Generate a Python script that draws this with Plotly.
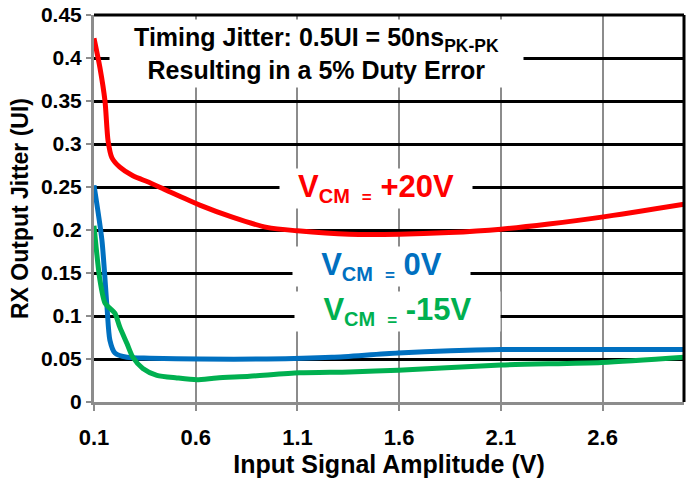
import plotly.graph_objects as go

# 读取自图像的数据点
x_red = [0.1, 0.129, 0.154, 0.169, 0.188, 0.227, 0.291, 0.375, 0.458, 0.62, 0.78, 0.95,
         1.1, 1.355, 1.6, 1.845, 2.1, 2.335, 2.595, 3.0]
y_red = [0.423, 0.389, 0.350, 0.304, 0.284, 0.273, 0.263, 0.255, 0.246, 0.229, 0.215, 0.203,
         0.199, 0.195, 0.195, 0.197, 0.201, 0.207, 0.215, 0.230]

x_blue = [0.1, 0.139, 0.164, 0.178, 0.203, 0.262, 0.375, 0.62, 0.95, 1.27, 1.595, 2.1, 2.595, 3.0]
y_blue = [0.252, 0.188, 0.110, 0.072, 0.057, 0.052, 0.051, 0.050, 0.050, 0.052, 0.057, 0.061, 0.061, 0.061]

x_green = [0.1, 0.129, 0.154, 0.178, 0.203, 0.227, 0.262, 0.291, 0.34, 0.409, 0.507, 0.605,
           0.703, 0.865, 1.11, 1.355, 1.595, 2.1, 2.595, 3.0]
y_green = [0.205, 0.142, 0.115, 0.109, 0.103, 0.087, 0.068, 0.052, 0.039, 0.031, 0.028, 0.026,
           0.028, 0.030, 0.034, 0.035, 0.037, 0.043, 0.046, 0.052]

x_ticks = [0.1, 0.6, 1.1, 1.6, 2.1, 2.6]

FONT = "Liberation Sans, Arial, sans-serif"
NARROW = "Liberation Sans Narrow, Arial Narrow, Liberation Sans, Arial, sans-serif"

fig = go.Figure()

for xs, ys, color in [(x_red, y_red, "#FF0000"), (x_blue, y_blue, "#0070C0"), (x_green, y_green, "#00B050")]:
    fig.add_trace(go.Scatter(
        x=xs, y=ys, mode="lines",
        line=dict(color=color, width=5, shape="spline", smoothing=0.7),
        showlegend=False, hoverinfo="skip",
    ))

# 注释文字（白底遮住网格线）
fig.add_annotation(
    x=1.196, y=0.4055, xref="x", yref="y", showarrow=False,
    text="Timing Jitter: 0.5UI = 50ns<sub>PK-PK</sub><br>Resulting in a 5% Duty Error",
    font=dict(family=FONT, size=25, color="black", weight="bold"),
    bgcolor="white", width=411, height=65,
)
labels = [
    ("+20V", "#FF0000", 1.487, 0.2477, 190),
    ("0V", "#0070C0", 1.514, 0.157, 175),
    ("-15V", "#00B050", 1.593, 0.105, 203),
]
for val, color, lx, ly, w in labels:
    fig.add_annotation(
        x=lx, y=ly, xref="x", yref="y", showarrow=False,
        text=("V<sub><span style='font-size:20px'>CM</span>&nbsp;&nbsp;"
              "<span style='font-size:17px'>=</span></sub>&nbsp;" + val),
        font=dict(family=FONT, size=31, color=color, weight="bold"),
        bgcolor="white", width=w, height=37,
    )

# 右边框、上边框
fig.add_shape(type="line", xref="paper", yref="paper", x0=1, x1=1, y0=0, y1=1,
              line=dict(color="black", width=3))
fig.add_shape(type="line", xref="paper", yref="paper", x0=0, x1=1, y0=1, y1=1,
              line=dict(color="black", width=3))

fig.update_xaxes(
    range=[0.1, 3.0], tickvals=x_ticks, ticktext=[str(v) for v in x_ticks],
    showgrid=True, gridcolor="#8C8C8C", gridwidth=2,
    showline=True, linecolor="#8C8C8C", linewidth=3,
    ticks="outside", ticklen=6, tickwidth=2, tickcolor="#8C8C8C",
    ticklabelstandoff=8,
    tickfont=dict(family=NARROW, size=22, color="black", weight="bold"),
    title=dict(text="Input Signal Amplitude (V)", standoff=2,
               font=dict(family=FONT, size=25, color="black", weight="bold")),
    zeroline=False, automargin=False,
)
fig.update_yaxes(
    range=[0, 0.45], dtick=0.05,
    showgrid=True, gridcolor="black", gridwidth=3,
    showline=True, linecolor="#8C8C8C", linewidth=3,
    ticks="outside", ticklen=5, tickwidth=2, tickcolor="#8C8C8C",
    tickfont=dict(family=NARROW, size=21, color="black", weight="bold"),
    title=dict(text="RX Output Jitter (UI)", standoff=6,
               font=dict(family=FONT, size=23, color="black", weight="bold")),
    zeroline=False, automargin=False,
)

fig.update_layout(
    width=697, height=478,
    margin=dict(l=94, r=13, t=15, b=76),
    plot_bgcolor="white", paper_bgcolor="white",
)

# 去掉页面默认 8px 边距，隐藏工具栏
fig.write_html("out.html", config={"displayModeBar": False},
               post_script="document.body.style.margin='0';")
